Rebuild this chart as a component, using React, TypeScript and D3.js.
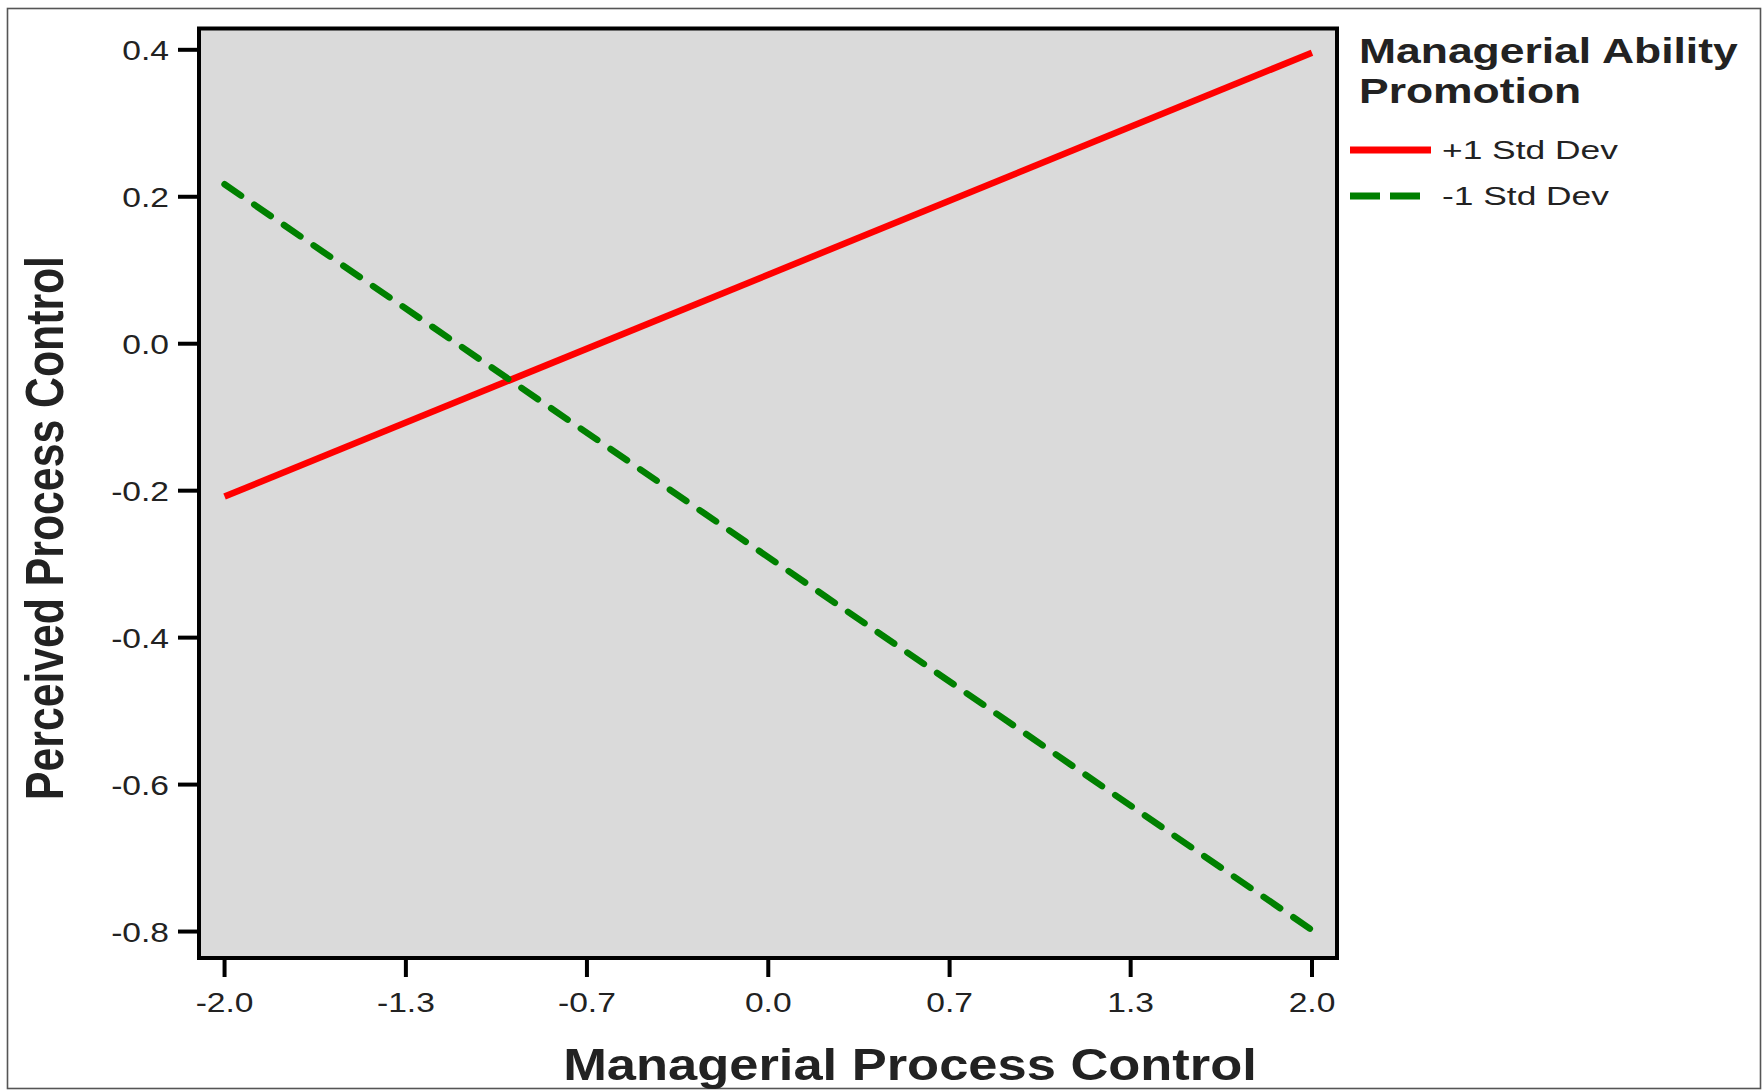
import React from 'react';
import * as d3 from 'd3';

// x positions of the two predicted points (Managerial Process Control)
const xValues = [-2, 2];
// Perceived Process Control, Managerial Ability Promotion +1 / -1 SD
const highSeries = [-0.208, 0.396];
const lowSeries = [0.217, -0.798];

const xTicks = [-2, -1.333, -0.667, 0, 0.667, 1.333, 2];
const xTickLabels = ['-2.0', '-1.3', '-0.7', '0.0', '0.7', '1.3', '2.0'];
const yTicks = [0.4, 0.2, 0, -0.2, -0.4, -0.6, -0.8];
const yTickLabels = ['0.4', '0.2', '0.0', '-0.2', '-0.4', '-0.6', '-0.8'];

const legendTitle = ['Managerial Ability', 'Promotion'];
const seriesNames = ['+1 Std Dev', '-1 Std Dev'];

const FONT = '"Liberation Sans", Arial, Helvetica, sans-serif';

const App = () => {
  const width = 1762;
  const height = 1090;
  const plot = { left: 199, right: 1337, top: 28.5, bottom: 958 };

  const xScale = d3.scaleLinear().domain([-2.094, 2.092]).range([plot.left, plot.right]);
  const yScale = d3.scaleLinear().domain([-0.836, 0.429]).range([plot.bottom, plot.top]);

  const line = d3
    .line<number>()
    .x((_, i) => xScale(xValues[i]))
    .y((d) => yScale(d));

  const series = [
    { name: seriesNames[0], values: highSeries, color: '#ff0000', dash: null },
    { name: seriesNames[1], values: lowSeries, color: '#008000', dash: '20 16' },
  ];

  return (
    <svg
      width={width}
      height={height}
      style={{ position: 'absolute', left: 0, top: 0, display: 'block', background: '#fff' }}
    >
      {/* outer frame */}
      <rect x={7.5} y={8.5} width={1753} height={1080} fill="none" stroke="#555" strokeWidth={1.6} />

      {/* plot background */}
      <rect
        x={plot.left}
        y={plot.top}
        width={plot.right - plot.left}
        height={plot.bottom - plot.top}
        fill="#dadada"
      />

      {/* lines */}
      {series.map((s) => (
        <path
          key={s.name}
          d={line(s.values) || ''}
          fill="none"
          stroke={s.color}
          strokeWidth={6.5}
          strokeDasharray={s.dash || undefined}
          strokeLinecap={s.dash ? 'round' : 'butt'}
        />
      ))}

      {/* plot frame */}
      <rect
        x={plot.left}
        y={plot.top}
        width={plot.right - plot.left}
        height={plot.bottom - plot.top}
        fill="none"
        stroke="#000"
        strokeWidth={4}
      />

      {/* y axis ticks */}
      {yTicks.map((t, i) => (
        <g key={'y' + t}>
          <line x1={178} x2={plot.left} y1={yScale(t)} y2={yScale(t)} stroke="#000" strokeWidth={4} />
          <text
            transform={`translate(169, ${yScale(t) + 10}) scale(1.2, 1)`}
            textAnchor="end"
            fontFamily={FONT}
            fontSize={28}
            fill="#222"
          >
            {yTickLabels[i]}
          </text>
        </g>
      ))}

      {/* x axis ticks */}
      {xTicks.map((t, i) => (
        <g key={'x' + t}>
          <line x1={xScale(t)} x2={xScale(t)} y1={plot.bottom} y2={977} stroke="#000" strokeWidth={4} />
          <text
            transform={`translate(${xScale(t)}, 1012) scale(1.2, 1)`}
            textAnchor="middle"
            fontFamily={FONT}
            fontSize={28}
            fill="#222"
          >
            {xTickLabels[i]}
          </text>
        </g>
      ))}

      {/* axis titles */}
      <text
        transform="translate(910, 1080) scale(1.166, 1)"
        textAnchor="middle"
        fontFamily={FONT}
        fontSize={45}
        fontWeight="bold"
        fill="#222"
      >
        Managerial Process Control
      </text>
      <text
        transform="translate(63, 528) rotate(-90)"
        textAnchor="middle"
        fontFamily={FONT}
        fontSize={54}
        fontWeight="bold"
        fill="#222"
        textLength={544}
        lengthAdjust="spacingAndGlyphs"
      >
        Perceived Process Control
      </text>

      {/* legend */}
      {legendTitle.map((t, i) => (
        <text
          key={t}
          transform={`translate(1359, ${63 + i * 40}) scale(1.27, 1)`}
          fontFamily={FONT}
          fontSize={35}
          fontWeight="bold"
          fill="#222"
        >
          {t}
        </text>
      ))}
      {series.map((s, i) => {
        const y = 150 + i * 46;
        return (
          <g key={'lg' + s.name}>
            <line
              x1={1350}
              x2={s.dash ? 1420 : 1431}
              y1={y}
              y2={y}
              stroke={s.color}
              strokeWidth={7}
              strokeDasharray={s.dash ? '30 10' : undefined}
            />
            <text
              transform={`translate(1442, ${y + 9}) scale(1.36, 1)`}
              fontFamily={FONT}
              fontSize={26}
              fill="#222"
            >
              {s.name}
            </text>
          </g>
        );
      })}
    </svg>
  );
};

export default App;
